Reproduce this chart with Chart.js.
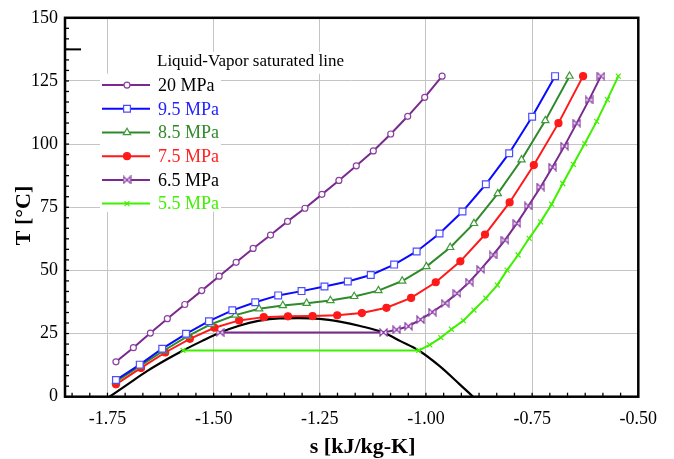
<!DOCTYPE html>
<html>
<head>
<meta charset="utf-8">
<script src="https://cdn.jsdelivr.net/npm/chart.js@4.4.1/dist/chart.umd.min.js"></script>
<style>
  html, body { margin: 0; padding: 0; background: #fff; }
</style>
</head>
<body>
<canvas id="tsChart" width="674" height="459"></canvas>
<script>
// CO2 isobars on the T-s plane (s in kJ/kg-K, T in degrees C)
const s20 = [-1.730, -1.689, -1.649, -1.609, -1.568, -1.528, -1.487, -1.447, -1.407, -1.366, -1.326, -1.285, -1.245, -1.205, -1.164, -1.124, -1.083, -1.043, -1.003, -0.962];
const t20 = [13.8, 19.4, 25.2, 30.9, 36.5, 42.0, 47.7, 53.2, 58.7, 64.0, 69.4, 74.6, 80.1, 85.6, 91.4, 97.3, 104.0, 111.0, 118.5, 126.9];

const s95 = [-1.730, -1.674, -1.621, -1.565, -1.511, -1.456, -1.402, -1.348, -1.293, -1.239, -1.184, -1.130, -1.075, -1.022, -0.968, -0.914, -0.859, -0.804, -0.750, -0.696];
const t95 = [6.6, 12.7, 19.0, 24.9, 29.9, 34.2, 37.4, 40.1, 41.8, 43.6, 45.6, 48.2, 52.3, 57.5, 64.6, 73.3, 84.1, 96.4, 110.8, 126.9];

const s85 = [-1.730, -1.674, -1.618, -1.561, -1.506, -1.449, -1.393, -1.337, -1.281, -1.225, -1.169, -1.112, -1.056, -0.999, -0.943, -0.887, -0.831, -0.775, -0.719, -0.662];
const t85 = [6.0, 12.1, 18.2, 24.0, 28.7, 32.3, 34.8, 36.1, 37.0, 38.1, 39.7, 42.0, 45.8, 51.5, 59.1, 68.6, 80.4, 93.8, 109.3, 126.9];

const s75 = [-1.730, -1.671, -1.614, -1.556, -1.498, -1.440, -1.382, -1.325, -1.267, -1.209, -1.151, -1.093, -1.035, -0.977, -0.919, -0.861, -0.803, -0.746, -0.688, -0.630];
const t75 = [4.9, 11.4, 17.5, 22.9, 27.3, 30.2, 31.5, 31.8, 31.9, 32.2, 33.1, 35.2, 39.1, 45.3, 53.6, 64.2, 76.9, 91.7, 108.3, 126.9];

const s65 = [-1.485, -1.100, -1.069, -1.041, -1.013, -0.985, -0.955, -0.927, -0.898, -0.871, -0.842, -0.814, -0.786, -0.759, -0.730, -0.702, -0.674, -0.645, -0.616, -0.588];
const t65 = [25.4, 25.4, 26.5, 27.9, 30.5, 33.5, 37.0, 40.9, 45.4, 50.4, 56.1, 62.0, 68.6, 75.5, 83.0, 90.9, 99.2, 108.3, 117.5, 126.9];

const s55 = [-1.572, -1.017, -0.991, -0.965, -0.940, -0.912, -0.887, -0.859, -0.832, -0.809, -0.783, -0.757, -0.730, -0.704, -0.678, -0.653, -0.626, -0.598, -0.573, -0.547];
const t55 = [18.3, 18.3, 20.5, 23.4, 26.7, 30.1, 34.3, 39.0, 44.2, 50.1, 56.1, 62.7, 69.2, 76.2, 84.4, 92.0, 100.2, 109.0, 117.6, 126.9];

// saturation dome
const sDome = [-1.745, -1.700, -1.655, -1.612, -1.572, -1.528, -1.485, -1.440, -1.395, -1.345, -1.300, -1.250, -1.203, -1.155, -1.100, -1.060, -1.017, -0.967, -0.920, -0.889];
const tDome = [0, 5.2, 10.3, 14.6, 18.3, 22.0, 25.4, 28.1, 30.0, 31.0, 31.1, 30.8, 29.7, 28.0, 25.4, 22.0, 18.3, 12.0, 4.8, 0];

const xTicks = [-1.75, -1.50, -1.25, -1.00, -0.75, -0.50];
const yTicks = [0, 25, 50, 75, 100, 125, 150];
const labels = ['20 MPa', '9.5 MPa', '8.5 MPa', '7.5 MPa', '6.5 MPa', '5.5 MPa'];
const legendTitle = 'Liquid-Vapor saturated line';

const FONT = "'Liberation Serif', 'Times New Roman', serif";

// bow-tie marker for the 6.5 MPa curve
function bowtie(size, color) {
    const c = document.createElement('canvas');
    c.width = size;
    c.height = size;
    const g = c.getContext('2d');
    const h = size / 2, m = 1;
    g.beginPath();
    g.moveTo(m, m); g.lineTo(h, h); g.lineTo(m, size - m); g.closePath();
    g.moveTo(size - m, m); g.lineTo(h, h); g.lineTo(size - m, size - m); g.closePath();
    g.fillStyle = '#fff';
    g.fill();
    g.strokeStyle = color;
    g.lineWidth = 1.2;
    g.stroke();
    return c;
}

const styles = [
    { line: '#7a2a8e', text: '#000000', point: 'circle',   radius: 3,   edge: '#8b3fa0', fill: '#ffffff' },
    { line: '#0a0aff', text: '#2222ff', point: 'rect',     radius: 4.8, edge: '#4c4cff', fill: '#ffffff' },
    { line: '#2e8a2a', text: '#2e8a2a', point: 'triangle', radius: 4.2, edge: '#3f9a3a', fill: '#ffffff' },
    { line: '#ff1a1a', text: '#ff2020', point: 'circle',   radius: 3.5, edge: '#ff1a1a', fill: '#ff1a1a' },
    { line: '#7a2a8e', text: '#000000', point: bowtie(9, '#8e44a8'), radius: 4, edge: '#8e44a8', fill: '#ffffff' },
    { line: '#3ff000', text: '#3ff000', point: 'crossRot', radius: 3.5, edge: '#3ff000', fill: '#3ff000' }
];

const sSets = [s20, s95, s85, s75, s65, s55];
const tSets = [t20, t95, t85, t75, t65, t55];

const datasets = labels.map((label, i) => ({
    label: label,
    data: sSets[i].map((s, k) => ({ x: s, y: tSets[i][k] })),
    showLine: true,
    borderColor: styles[i].line,
    borderWidth: 2,
    tension: 0,
    pointStyle: styles[i].point,
    pointRadius: styles[i].radius,
    pointBorderColor: styles[i].edge,
    pointBackgroundColor: styles[i].fill,
    pointBorderWidth: 1.2
}));

datasets.push({
    label: 'dome',
    data: sDome.map((s, k) => ({ x: s, y: tDome[k] })),
    showLine: true,
    borderColor: '#000000',
    borderWidth: 2.2,
    cubicInterpolationMode: 'monotone',
    pointRadius: 0
});

// frame, inward minor ticks and the short mark on the T axis
const frame = {
    id: 'frame',
    afterDatasetsDraw(chart) {
        const { ctx, chartArea: a, scales: { x, y } } = chart;
        ctx.save();
        ctx.strokeStyle = '#000';
        ctx.lineWidth = 1.3;
        const xs = (xTicks[1] - xTicks[0]) / 6;
        for (let v = xTicks[0] - 0.25; v < x.max + 1e-9; v += xs) {
            if (v < x.min - 1e-9) continue;
            const px = x.getPixelForValue(v);
            ctx.beginPath(); ctx.moveTo(px, a.bottom); ctx.lineTo(px, a.bottom - 4); ctx.stroke();
        }
        const ys = (yTicks[1] - yTicks[0]) / 6;
        for (let v = y.min; v < y.max + 1e-9; v += ys) {
            const py = y.getPixelForValue(v);
            ctx.beginPath(); ctx.moveTo(a.left, py); ctx.lineTo(a.left + 4, py); ctx.stroke();
        }
        ctx.lineWidth = 2;
        const pm = y.getPixelForValue(137.5);
        ctx.beginPath(); ctx.moveTo(a.left, pm); ctx.lineTo(a.left + 16, pm); ctx.stroke();
        ctx.lineWidth = 2.5;
        ctx.strokeRect(a.left, a.top, a.right - a.left, a.bottom - a.top);
        ctx.restore();
    }
};

// legend block inside the plot area
const legendBox = {
    id: 'legendBox',
    afterDatasetsDraw(chart) {
        const { ctx, chartArea: a } = chart;
        ctx.save();
        ctx.fillStyle = '#fff';
        ctx.fillRect(a.left + 35, a.top + 56, 121, 138);
        ctx.fillRect(a.left + 88, a.top + 34, 196, 22);
        ctx.textBaseline = 'middle';
        ctx.fillStyle = '#000';
        ctx.font = '17px ' + FONT;
        ctx.fillText(legendTitle, a.left + 92, a.top + 44);
        ctx.font = '18px ' + FONT;
        labels.forEach((label, i) => {
            const ds = chart.data.datasets[i];
            const ly = a.top + 67.3 + i * 23.7;
            ctx.strokeStyle = ds.borderColor;
            ctx.lineWidth = ds.borderWidth;
            ctx.beginPath(); ctx.moveTo(a.left + 37, ly); ctx.lineTo(a.left + 85, ly); ctx.stroke();
            ctx.fillStyle = ds.pointBackgroundColor;
            ctx.strokeStyle = ds.pointBorderColor;
            ctx.lineWidth = ds.pointBorderWidth;
            Chart.helpers.drawPoint(ctx, {
                pointStyle: ds.pointStyle, radius: ds.pointRadius,
                borderWidth: ds.pointBorderWidth, rotation: 0
            }, a.left + 62, ly);
            ctx.fillStyle = styles[i].text;
            ctx.fillText(label, a.left + 93, ly + 1);
        });
        ctx.restore();
    }
};

new Chart(document.getElementById('tsChart'), {
    type: 'scatter',
    data: { datasets: datasets },
    plugins: [frame, legendBox],
    options: {
        responsive: false,
        animation: false,
        events: [],
        layout: { padding: { top: 16, right: 35.7, left: 0, bottom: 0 } },
        plugins: { legend: { display: false }, tooltip: { enabled: false } },
        scales: {
            x: {
                type: 'linear',
                min: -1.85,
                max: -0.50,
                afterBuildTicks: s => { s.ticks = xTicks.map(v => ({ value: v })); },
                afterFit: s => { s.height = 62.3; },
                border: { display: false },
                grid: { color: '#c4c4c4', lineWidth: 1, drawTicks: false },
                ticks: {
                    color: '#000',
                    padding: 12,
                    maxRotation: 0,
                    font: { family: FONT, size: 18 },
                    callback: v => v.toFixed(2)
                },
                title: {
                    display: true,
                    // leading spaces nudge the title a little right of centre
                    text: '    s [kJ/kg-K]',
                    color: '#000',
                    padding: 0,
                    font: { family: FONT, size: 22, weight: 'bold', lineHeight: 1.05 }
                }
            },
            y: {
                type: 'linear',
                min: 0,
                max: 150,
                afterBuildTicks: s => { s.ticks = yTicks.map(v => ({ value: v })); },
                afterFit: s => { s.width = 65; },
                border: { display: false },
                grid: { color: '#c4c4c4', lineWidth: 1, drawTicks: false },
                ticks: {
                    color: '#000',
                    padding: 7,
                    font: { family: FONT, size: 18 },
                    callback: v => String(v)
                },
                title: {
                    display: true,
                    text: 'T [°C]   ',
                    color: '#000',
                    padding: { top: 11, bottom: 0 },
                    font: { family: FONT, size: 22, weight: 'bold' }
                }
            }
        }
    }
});
</script>
</body>
</html>
